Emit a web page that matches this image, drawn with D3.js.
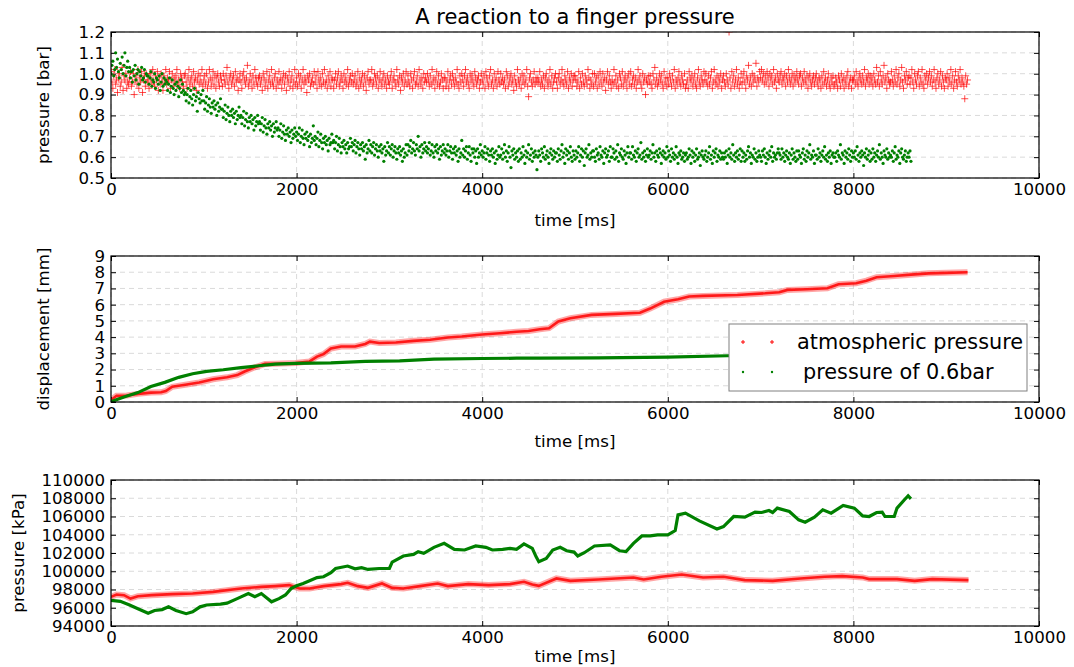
<!DOCTYPE html>
<html>
<head>
<meta charset="utf-8">
<script src="https://cdn.jsdelivr.net/npm/d3@7"></script>
<style>
  body { margin: 0; background: #fff; }
  svg text { font-family: "DejaVu Sans", sans-serif; fill: #000; }
  .tick text, .lbl { font-size: 16.67px; }
  .title { font-size: 21px; }
  .legend text { font-size: 20.8px; }
</style>
</head>
<body>
<div id="chart"></div>
<script>
// --- data ---
const timeTicks = [0, 2000, 4000, 6000, 8000, 10000];
const barTicks = [0.5, 0.6, 0.7, 0.8, 0.9, 1.0, 1.1, 1.2];
const mmTicks = [0, 1, 2, 3, 4, 5, 6, 7, 8, 9];
const kpaTicks = [94000, 96000, 98000, 100000, 102000, 104000, 106000, 108000, 110000];
const seriesNames = ["atmospheric pressure", "pressure of 0.6bar"];

// panel 1: one sample every 10 ms
const sampleStepMs = 10;
const atmPressureBar = [
  1.01,0.96,0.93,0.99,1.02,0.95,0.97,0.91,0.98,1.0,0.94,0.96,1.03,0.92,0.99,0.97,1.0,0.93,0.96,0.95,
  0.98,1.01,0.94,0.96,1.0,0.9,0.97,0.99,0.95,1.02,0.93,0.98,0.96,1.01,0.91,0.97,0.99,0.94,1.0,0.96,
  0.97,0.93,1.0,0.98,0.95,1.02,0.96,0.94,0.99,0.97,1.01,0.92,0.98,0.95,1.0,0.96,0.92,0.99,0.97,1.02,
  0.95,0.98,0.96,1.01,0.93,0.97,1.0,0.94,0.98,0.96,0.99,1.02,0.95,0.97,0.93,1.0,0.98,0.96,0.94,0.99,
  1.0,0.96,0.93,0.98,1.02,0.95,0.97,0.99,0.94,1.01,0.96,0.98,0.92,0.97,1.0,0.95,0.99,0.96,1.02,0.94,
  0.97,0.99,0.95,1.0,0.93,0.96,1.02,0.98,0.94,0.97,1.01,0.95,0.99,0.93,0.98,1.0,0.96,0.94,0.99,0.97,
  0.94,1.0,0.97,0.95,0.99,1.03,0.96,0.93,0.98,1.0,0.95,0.97,0.99,0.94,1.01,0.96,0.98,0.92,0.97,1.0,
  0.96,0.93,0.99,1.01,0.97,0.95,0.98,1.04,0.94,0.96,1.0,0.97,0.93,0.99,0.95,1.02,0.98,0.96,0.94,0.98,
  0.99,0.95,0.97,0.92,1.0,0.98,0.94,0.96,1.01,0.93,0.97,0.99,0.95,1.02,0.96,0.94,0.98,1.0,0.93,0.97,
  0.95,1.01,0.96,0.98,0.93,0.97,1.0,0.95,0.99,0.92,0.98,0.96,1.01,0.94,0.97,0.99,0.93,0.96,1.02,0.95,
  0.98,0.94,1.0,0.96,0.99,0.93,0.97,1.02,0.95,0.98,0.96,0.91,0.99,0.97,1.0,0.94,0.96,0.98,0.95,1.01,
  0.96,0.99,0.93,1.01,0.97,0.95,0.98,0.94,1.0,0.96,1.02,0.95,0.97,0.93,0.99,0.96,1.01,0.94,0.98,0.97,
  0.93,0.97,1.0,0.95,0.98,1.01,0.94,0.96,0.99,0.97,0.93,1.0,0.96,0.98,0.95,1.02,0.94,0.97,0.99,0.96,
  1.0,0.95,0.97,0.99,0.94,0.96,1.01,0.93,0.98,0.95,0.97,1.0,0.94,0.99,0.96,0.92,0.98,1.01,0.95,0.97,
  0.97,1.02,0.94,0.96,1.0,0.98,0.95,0.99,0.93,0.97,1.01,0.96,0.94,0.98,1.0,0.95,0.97,0.93,0.99,0.96,
  0.95,0.98,1.01,0.93,0.97,0.99,0.96,0.94,1.02,0.97,0.95,0.99,0.92,0.98,0.96,1.0,0.94,0.97,1.01,0.95,
  0.99,0.96,0.94,1.0,0.97,0.93,0.98,1.01,0.95,0.96,0.99,0.94,1.02,0.97,0.95,0.98,0.93,1.0,0.96,0.98,
  0.96,1.0,0.97,0.94,0.99,0.95,1.02,0.96,0.98,0.93,0.97,1.01,0.95,0.99,0.94,0.96,1.0,0.97,0.93,0.98,
  0.98,0.94,0.96,1.01,0.93,0.97,0.99,0.95,1.0,0.97,0.94,0.98,0.96,1.02,0.95,0.93,0.99,0.96,1.0,0.97,
  0.94,0.99,1.02,0.96,0.98,0.95,0.93,1.0,0.97,0.99,0.96,0.94,1.01,0.98,0.95,0.97,0.99,0.93,0.96,1.0,
  0.97,0.95,0.99,0.93,1.01,0.98,0.96,0.94,0.99,1.02,0.95,0.97,0.93,1.0,0.96,0.98,0.94,1.01,0.97,0.95,
  1.0,0.96,0.98,0.95,0.97,0.93,1.01,0.99,0.94,0.96,0.98,1.0,0.95,0.97,0.92,0.99,0.96,0.94,1.02,0.97,
  0.95,0.98,0.93,1.0,0.96,0.99,0.95,0.97,1.02,0.94,0.89,0.98,1.0,0.96,0.94,0.97,1.01,0.95,0.98,0.96,
  0.98,0.96,1.01,0.94,0.97,0.95,0.99,0.93,0.98,1.0,0.96,0.94,0.97,1.02,0.95,0.99,0.93,0.96,0.98,1.0,
  0.96,0.93,0.98,1.0,0.95,0.97,1.02,0.96,0.94,0.99,0.97,0.95,1.01,0.93,0.98,0.96,1.0,0.94,0.97,0.99,
  0.99,0.97,0.94,0.96,1.01,0.93,0.98,0.95,1.0,0.96,0.94,0.99,0.97,0.95,1.02,0.98,0.93,0.97,0.95,1.0,
  0.94,1.0,0.96,0.98,0.93,0.99,0.95,1.01,0.97,0.94,1.0,0.96,0.98,0.92,0.97,1.01,0.95,0.99,0.96,0.93,
  0.97,0.95,1.02,0.96,0.99,0.94,0.97,0.93,1.0,0.98,0.95,1.01,0.94,0.97,0.99,0.96,0.93,0.98,1.0,0.95,
  1.01,0.94,0.97,0.99,0.95,0.98,0.93,0.96,1.02,0.97,0.99,0.95,0.93,1.0,0.96,0.98,0.9,0.97,0.95,0.99,
  0.96,0.99,0.95,0.93,1.0,0.97,1.03,0.95,0.98,0.94,0.96,1.0,0.97,0.99,0.95,0.93,1.01,0.96,0.98,0.94,
  0.98,0.95,1.0,0.97,0.94,0.99,0.96,1.02,0.93,0.97,0.95,0.98,1.01,0.96,0.94,0.99,0.97,0.95,1.0,0.93,
  0.95,0.97,0.93,1.01,0.98,0.96,0.99,0.94,0.97,1.0,0.95,0.93,0.98,1.02,0.96,0.94,0.99,0.97,0.95,1.01,
  0.97,1.0,0.96,0.94,0.99,0.95,0.98,1.01,0.93,0.96,1.02,0.97,0.95,0.99,0.94,0.98,0.96,1.0,0.93,0.97,
  0.99,0.96,0.94,1.0,0.97,0.95,1.2,0.98,0.93,1.01,0.96,0.99,0.94,0.97,1.02,0.95,0.98,0.93,0.96,1.0,
  0.95,0.98,1.01,0.96,0.93,0.99,0.97,1.04,0.95,0.98,0.94,1.0,0.96,0.99,0.97,1.05,0.94,0.98,0.96,1.01,
  0.98,1.02,0.97,1.0,0.95,0.99,0.96,1.01,0.98,0.94,1.0,0.97,0.99,0.95,1.02,0.96,0.98,0.93,1.0,0.97,
  0.96,0.99,1.01,0.95,0.98,0.97,1.0,0.94,0.99,0.96,1.02,0.98,0.95,0.97,1.0,0.94,0.99,0.96,0.98,1.01,
  0.97,0.95,0.99,1.0,0.94,0.98,0.96,1.01,0.97,0.95,0.99,0.93,0.98,1.0,0.96,0.94,0.97,0.99,0.95,0.98,
  1.0,0.96,0.94,0.98,0.97,0.93,0.99,0.95,1.01,0.96,0.98,0.94,0.97,1.0,0.95,0.93,0.98,0.96,0.99,0.94,
  0.95,0.98,0.96,0.93,0.99,0.97,0.94,1.0,0.96,0.98,0.93,0.97,0.95,0.99,1.01,0.94,0.96,0.98,0.93,0.97,
  0.97,0.99,0.95,1.01,0.96,0.94,0.98,1.0,0.97,0.95,0.99,0.96,1.02,0.94,0.98,0.97,1.0,0.95,0.99,0.96,
  0.98,0.94,1.0,0.97,0.95,1.03,0.96,0.99,0.94,1.01,0.97,0.95,0.99,1.04,0.96,0.98,0.93,1.0,0.97,0.95,
  0.96,1.01,0.97,0.94,0.99,0.96,1.02,0.95,0.98,1.0,0.94,0.97,1.03,0.96,0.93,0.99,0.97,1.01,0.95,0.98,
  0.99,0.95,0.98,1.02,0.96,0.93,1.0,0.97,0.95,0.99,1.01,0.94,0.98,0.96,1.02,0.95,0.93,0.99,0.97,1.0,
  0.95,0.98,1.01,0.96,0.99,0.94,0.97,1.02,0.96,0.93,0.98,1.0,0.95,0.97,1.01,0.94,0.99,0.96,0.93,0.98,
  0.97,1.0,0.94,0.98,0.96,1.02,0.95,0.99,0.93,0.97,1.01,0.96,0.94,0.99,0.97,1.02,0.95,0.98,0.96,0.94,
  0.88,0.99,0.95,0.97
];
const lowPressureBar = [
  1.0,1.04,1.06,0.99,1.02,1.1,1.03,1.07,1.01,0.98,1.05,1.02,1.08,1.0,1.04,1.1,0.99,1.03,1.06,1.01,
  1.03,0.98,1.01,0.96,1.02,0.99,1.04,0.97,1.0,1.02,0.95,1.01,0.99,1.03,0.97,0.98,1.02,0.96,1.0,0.99,
  0.99,0.95,0.98,1.01,0.94,0.97,0.96,1.0,0.93,0.98,0.97,0.95,0.99,0.92,0.96,1.0,0.94,0.98,0.95,0.97,
  0.96,0.92,0.95,0.98,0.91,0.94,0.97,0.93,0.9,0.95,0.92,0.96,0.94,0.89,0.93,0.97,0.91,0.95,0.92,0.9,
  0.91,0.87,0.9,0.93,0.86,0.89,0.92,0.88,0.85,0.9,0.93,0.87,0.89,0.82,0.91,0.88,0.86,0.9,0.87,0.92,
  0.87,0.83,0.86,0.89,0.82,0.85,0.88,0.84,0.81,0.86,0.84,0.87,0.83,0.85,0.8,0.86,0.82,0.84,0.88,0.83,
  0.83,0.79,0.82,0.85,0.78,0.81,0.84,0.8,0.77,0.82,0.8,0.83,0.79,0.81,0.76,0.82,0.78,0.8,0.84,0.79,
  0.8,0.76,0.79,0.82,0.75,0.78,0.81,0.77,0.74,0.79,0.77,0.8,0.76,0.78,0.73,0.79,0.75,0.77,0.8,0.76,
  0.77,0.73,0.76,0.79,0.72,0.75,0.78,0.74,0.71,0.76,0.74,0.77,0.73,0.75,0.7,0.76,0.72,0.74,0.77,0.73,
  0.74,0.7,0.73,0.76,0.69,0.72,0.75,0.71,0.68,0.73,0.71,0.74,0.7,0.72,0.67,0.73,0.69,0.71,0.74,0.7,
  0.72,0.68,0.71,0.74,0.67,0.7,0.73,0.69,0.66,0.71,0.69,0.72,0.68,0.7,0.65,0.71,0.67,0.69,0.75,0.68,
  0.7,0.66,0.69,0.72,0.65,0.68,0.71,0.67,0.64,0.69,0.67,0.7,0.66,0.68,0.63,0.69,0.66,0.67,0.71,0.67,
  0.68,0.64,0.67,0.7,0.63,0.66,0.69,0.65,0.62,0.67,0.65,0.68,0.64,0.66,0.62,0.67,0.64,0.65,0.69,0.65,
  0.67,0.63,0.66,0.68,0.62,0.65,0.67,0.64,0.61,0.66,0.64,0.67,0.63,0.65,0.59,0.66,0.62,0.64,0.68,0.63,
  0.66,0.62,0.65,0.67,0.61,0.64,0.66,0.63,0.6,0.65,0.63,0.66,0.62,0.64,0.58,0.65,0.61,0.63,0.67,0.62,
  0.65,0.61,0.64,0.66,0.6,0.63,0.65,0.62,0.59,0.64,0.62,0.65,0.61,0.63,0.58,0.64,0.6,0.62,0.66,0.61,
  0.66,0.63,0.65,0.68,0.62,0.64,0.67,0.63,0.61,0.66,0.64,0.7,0.63,0.65,0.6,0.66,0.62,0.64,0.67,0.63,
  0.65,0.62,0.64,0.67,0.61,0.63,0.66,0.62,0.6,0.65,0.63,0.66,0.62,0.64,0.59,0.65,0.61,0.63,0.66,0.62,
  0.64,0.61,0.63,0.66,0.6,0.63,0.65,0.62,0.59,0.64,0.62,0.65,0.61,0.63,0.58,0.64,0.6,0.62,0.68,0.61,
  0.64,0.6,0.63,0.65,0.59,0.62,0.65,0.61,0.58,0.64,0.62,0.64,0.6,0.63,0.57,0.64,0.6,0.62,0.66,0.61,
  0.63,0.6,0.62,0.65,0.59,0.62,0.64,0.61,0.58,0.63,0.61,0.64,0.6,0.62,0.57,0.63,0.59,0.61,0.65,0.6,
  0.61,0.64,0.59,0.62,0.66,0.6,0.63,0.58,0.62,0.65,0.6,0.55,0.63,0.61,0.64,0.59,0.62,0.6,0.63,0.58,
  0.64,0.59,0.62,0.6,0.65,0.61,0.57,0.63,0.6,0.62,0.66,0.59,0.61,0.64,0.58,0.62,0.6,0.63,0.61,0.54,
  0.6,0.63,0.61,0.58,0.64,0.62,0.6,0.65,0.59,0.61,0.63,0.6,0.57,0.62,0.64,0.61,0.59,0.63,0.6,0.62,
  0.62,0.58,0.64,0.61,0.59,0.63,0.66,0.6,0.62,0.57,0.64,0.61,0.63,0.59,0.62,0.65,0.6,0.58,0.63,0.61,
  0.59,0.63,0.6,0.62,0.65,0.58,0.61,0.64,0.6,0.63,0.56,0.62,0.64,0.6,0.61,0.66,0.59,0.62,0.6,0.63,
  0.63,0.6,0.58,0.64,0.61,0.62,0.59,0.65,0.61,0.6,0.63,0.57,0.62,0.64,0.6,0.61,0.63,0.58,0.65,0.6,
  0.6,0.64,0.62,0.59,0.63,0.6,0.66,0.58,0.62,0.61,0.64,0.6,0.59,0.63,0.61,0.57,0.62,0.65,0.6,0.62,
  0.62,0.59,0.65,0.61,0.6,0.63,0.58,0.62,0.64,0.6,0.61,0.67,0.59,0.62,0.6,0.63,0.58,0.61,0.64,0.6,
  0.61,0.63,0.59,0.62,0.66,0.6,0.62,0.58,0.63,0.61,0.6,0.64,0.62,0.57,0.61,0.63,0.6,0.62,0.59,0.65,
  0.6,0.63,0.61,0.58,0.64,0.6,0.62,0.59,0.61,0.65,0.6,0.57,0.62,0.61,0.63,0.59,0.6,0.62,0.58,0.61,
  0.62,0.59,0.6,0.64,0.61,0.57,0.63,0.6,0.62,0.58,0.61,0.64,0.59,0.6,0.62,0.56,0.61,0.63,0.6,0.59,
  0.61,0.63,0.58,0.6,0.62,0.65,0.59,0.61,0.57,0.63,0.6,0.62,0.64,0.58,0.61,0.6,0.63,0.59,0.62,0.6,
  0.59,0.62,0.6,0.63,0.57,0.61,0.64,0.6,0.62,0.59,0.66,0.61,0.58,0.62,0.6,0.63,0.59,0.61,0.64,0.58,
  0.63,0.6,0.62,0.58,0.61,0.59,0.63,0.65,0.6,0.62,0.57,0.61,0.6,0.64,0.59,0.62,0.58,0.6,0.63,0.61,
  0.6,0.58,0.63,0.61,0.64,0.6,0.57,0.62,0.59,0.61,0.63,0.6,0.65,0.58,0.62,0.6,0.61,0.59,0.62,0.64,
  0.62,0.61,0.59,0.64,0.6,0.62,0.58,0.61,0.63,0.6,0.59,0.62,0.57,0.61,0.64,0.59,0.62,0.6,0.58,0.63,
  0.59,0.63,0.61,0.6,0.57,0.62,0.64,0.59,0.61,0.58,0.63,0.6,0.62,0.66,0.59,0.61,0.6,0.63,0.57,0.61,
  0.61,0.59,0.64,0.6,0.62,0.58,0.61,0.63,0.6,0.65,0.59,0.61,0.58,0.62,0.6,0.63,0.57,0.61,0.62,0.6,
  0.6,0.62,0.58,0.63,0.61,0.6,0.66,0.59,0.62,0.61,0.57,0.63,0.6,0.62,0.59,0.64,0.61,0.58,0.63,0.6,
  0.62,0.6,0.63,0.59,0.65,0.61,0.58,0.62,0.6,0.63,0.61,0.56,0.62,0.6,0.64,0.59,0.61,0.63,0.58,0.62,
  0.59,0.64,0.6,0.62,0.58,0.61,0.63,0.6,0.66,0.59,0.62,0.6,0.57,0.63,0.61,0.6,0.64,0.59,0.62,0.6,
  0.61,0.6,0.63,0.58,0.62,0.65,0.59,0.61,0.6,0.63,0.57,0.62,0.64,0.6,0.59,0.61,0.63,0.58,0.6,0.62,
  0.6,0.63,0.58
];

// panel 2: displacement [mm]
const dispTimeAtm = [0,60,170,290,430,540,590,660,800,950,1100,1250,1360,1440,1550,1660,1770,1990,2140,2220,2290,2370,2480,2630,2740,2790,2890,3070,3260,3440,3630,3780,4000,4190,4370,4500,4620,4720,4820,4950,5180,5440,5700,5810,5960,6110,6230,6380,6750,7050,7200,7290,7500,7720,7840,8030,8140,8250,8440,8620,8810,9000,9230];
const dispAtm = [0.12,0.38,0.4,0.5,0.58,0.6,0.68,0.94,1.06,1.2,1.4,1.52,1.66,1.88,2.14,2.35,2.36,2.4,2.5,2.8,2.95,3.3,3.42,3.42,3.58,3.72,3.64,3.67,3.77,3.84,3.98,4.04,4.16,4.24,4.33,4.38,4.48,4.55,4.96,5.16,5.37,5.43,5.5,5.76,6.18,6.33,6.5,6.54,6.6,6.7,6.77,6.91,6.95,7.01,7.26,7.32,7.48,7.69,7.77,7.85,7.93,7.96,8.0];
const dispTimeLow = [0,140,290,430,580,730,880,1030,1210,1400,1620,1770,1990,2370,2740,3110,3480,4000,4370,4620,5250,6000,6640,7300,8000,8620];
const dispLow = [0.02,0.31,0.58,0.95,1.21,1.52,1.74,1.89,1.99,2.12,2.25,2.33,2.38,2.41,2.5,2.54,2.64,2.68,2.7,2.7,2.72,2.77,2.85,2.87,2.9,2.92];

// panel 3: pressure [kPa]
const kpaTimeAtm = [0,60,140,210,290,440,660,880,1100,1400,1620,1770,1920,2030,2140,2290,2480,2550,2660,2770,2920,3030,3150,3330,3520,3630,3850,4070,4300,4450,4540,4610,4800,4950,5250,5630,5740,5930,6150,6380,6600,6830,7130,7430,7690,7880,8100,8170,8470,8660,8850,9240];
const kpaAtm = [97190,97450,97380,97010,97270,97380,97490,97560,97740,98110,98290,98370,98480,98110,98110,98370,98590,98730,98370,98180,98660,98180,98110,98370,98660,98370,98590,98480,98590,98840,98550,98400,99210,98950,99100,99320,99100,99400,99650,99320,99400,99030,98950,99210,99400,99470,99320,99140,99140,98950,99140,99030];
const kpaTimeLow = [0,100,200,290,400,470,550,620,700,810,880,960,1030,1180,1250,1360,1480,1550,1620,1730,1810,1880,1940,2000,2070,2140,2220,2290,2370,2420,2550,2630,2700,2770,2890,3000,3030,3150,3260,3310,3370,3480,3590,3700,3810,3930,4040,4110,4220,4300,4370,4450,4540,4580,4610,4690,4760,4840,4910,4990,5030,5100,5210,5380,5480,5550,5630,5720,5810,5890,6000,6080,6110,6190,6340,6530,6600,6710,6830,6940,7010,7090,7130,7180,7310,7410,7480,7580,7670,7760,7890,8010,8100,8170,8250,8310,8340,8440,8470,8550,8590,8620];
const kpaLow = [96800,96700,96300,95900,95400,95700,95800,96100,95700,95350,95550,96100,96300,96400,96500,97000,97550,97200,97550,96650,97000,97400,98100,98400,98650,98950,99300,99400,99850,100300,100570,100270,100400,100200,100300,100300,101000,101670,101850,102150,101970,102620,103060,102400,102330,102770,102620,102330,102400,102500,102400,103000,102500,101600,101050,101400,102330,102620,102250,102100,101670,102030,102770,102880,102250,102150,103060,103870,103870,103980,103980,104460,106180,106370,105520,104640,104900,106000,105930,106480,106440,106660,106440,106920,106550,105630,105380,105930,106730,106370,107210,106920,106070,106000,106440,106480,106000,106000,106920,107830,108270,107940];

// --- layout ---
const width = 1074, height = 667;
const margin = { left: 111 };
const iwidth = 928, iheight = 146;
const panelTops = [32, 256, 480];
const red = "#ff0000", green = "#008000";

const svg = d3.select("#chart").append("svg")
  .attr("width", width).attr("height", height);

const x = d3.scaleLinear().domain([0, 10000]).range([0, iwidth]);

function panel(i, yDomain, yTicks, yFormat, yLabel, yLabelX, xLabelY) {
  const g = svg.append("g").attr("transform", `translate(${margin.left},${panelTops[i]})`);
  const y = d3.scaleLinear().domain(yDomain).range([iheight, 0]);

  g.append("clipPath").attr("id", "clip" + i)
    .append("rect").attr("width", iwidth).attr("height", iheight);

  // dashed grid
  const grid = g.append("g").attr("stroke", "#dadada").attr("stroke-dasharray", "5,4");
  grid.selectAll(".gx").data(timeTicks).join("line")
    .attr("x1", d => x(d)).attr("x2", d => x(d)).attr("y1", 0).attr("y2", iheight);
  grid.selectAll(".gy").data(yTicks).join("line")
    .attr("x1", 0).attr("x2", iwidth).attr("y1", d => y(d)).attr("y2", d => y(d));

  const axes = [
    g.append("g").attr("transform", `translate(0,${iheight})`)
      .call(d3.axisBottom(x).tickValues(timeTicks).tickFormat(d3.format("d")).tickSizeInner(-5).tickSizeOuter(0).tickPadding(5)),
    g.append("g")
      .call(d3.axisTop(x).tickValues(timeTicks).tickFormat("").tickSizeInner(-5).tickSizeOuter(0)),
    g.append("g")
      .call(d3.axisLeft(y).tickValues(yTicks).tickFormat(yFormat).tickSizeInner(-5).tickSizeOuter(0).tickPadding(6)),
    g.append("g").attr("transform", `translate(${iwidth},0)`)
      .call(d3.axisRight(y).tickValues(yTicks).tickFormat("").tickSizeInner(-5).tickSizeOuter(0))
  ];
  axes.forEach(a => {
    a.select(".domain").remove();
    a.selectAll("line").attr("stroke", "#000");
  });

  g.append("text").attr("class", "lbl")
    .attr("text-anchor", "middle")
    .attr("transform", `translate(${yLabelX - margin.left},${iheight / 2}) rotate(-90)`)
    .text(yLabel);
  g.append("text").attr("class", "lbl")
    .attr("text-anchor", "middle")
    .attr("x", iwidth / 2).attr("y", xLabelY - panelTops[i])
    .text("time [ms]");

  const plot = g.append("g").attr("clip-path", `url(#clip${i})`);
  return { g, y, plot };
}

function frame(p) {
  p.g.append("rect").attr("width", iwidth).attr("height", iheight)
    .attr("fill", "none").attr("stroke", "#000").attr("stroke-width", 1.2);
}

// panel 1
const p1 = panel(0, [0.5, 1.2], barTicks, d3.format(".1f"), "pressure [bar]", 49, 226);
p1.plot.append("g").attr("stroke", red).attr("stroke-width", 1).attr("stroke-opacity", 0.7)
  .selectAll("path")
  .data(atmPressureBar)
  .join("path")
  .attr("d", (d, k) => {
    const cx = x(k * sampleStepMs), cy = p1.y(d);
    return `M${cx - 3.5},${cy}h7M${cx},${cy - 3.5}v7`;
  });
p1.plot.append("g").attr("fill", green)
  .selectAll("circle")
  .data(lowPressureBar)
  .join("circle")
  .attr("cx", (d, k) => x(k * sampleStepMs))
  .attr("cy", d => p1.y(d))
  .attr("r", 1.6);
frame(p1);
svg.append("text").attr("class", "title")
  .attr("x", margin.left + iwidth / 2).attr("y", 24)
  .attr("text-anchor", "middle")
  .text("A reaction to a finger pressure");

// panels 2 and 3 draw the dense marker runs as thick traces
function traces(p, tAtm, vAtm, tLow, vLow) {
  const line = (ts) => d3.line().x((d, k) => x(ts[k])).y(d => p.y(d));
  p.plot.append("path").datum(vAtm).attr("d", line(tAtm))
    .attr("fill", "none").attr("stroke", red).attr("stroke-opacity", 0.35).attr("stroke-width", 6);
  p.plot.append("path").datum(vAtm).attr("d", line(tAtm))
    .attr("fill", "none").attr("stroke", red).attr("stroke-opacity", 0.85).attr("stroke-width", 2.6);
  p.plot.append("path").datum(vLow).attr("d", line(tLow))
    .attr("fill", "none").attr("stroke", green).attr("stroke-width", 3.2);
}

const p2 = panel(1, [0, 9], mmTicks, d3.format("d"), "displacement [mm]", 49, 447);
traces(p2, dispTimeAtm, dispAtm, dispTimeLow, dispLow);
frame(p2);

// legend
const leg = svg.append("g").attr("class", "legend").attr("transform", "translate(729,324)");
leg.append("rect").attr("width", 298).attr("height", 67)
  .attr("fill", "#fff").attr("stroke", "#808080").attr("stroke-width", 1);
[14, 43].forEach(mx => {
  leg.append("path").attr("d", `M${mx - 2},18h4M${mx},16v4`).attr("stroke", red).attr("stroke-width", 1);
  leg.append("circle").attr("cx", mx).attr("cy", 48).attr("r", 1.2).attr("fill", green);
});
leg.append("text").attr("x", 68).attr("y", 25).text(seriesNames[0]);
leg.append("text").attr("x", 74).attr("y", 55).text(seriesNames[1]);

const p3 = panel(2, [94000, 110000], kpaTicks, d3.format("d"), "pressure [kPa]", 24, 662);
traces(p3, kpaTimeAtm, kpaAtm, kpaTimeLow, kpaLow);
frame(p3);
</script>
</body>
</html>
